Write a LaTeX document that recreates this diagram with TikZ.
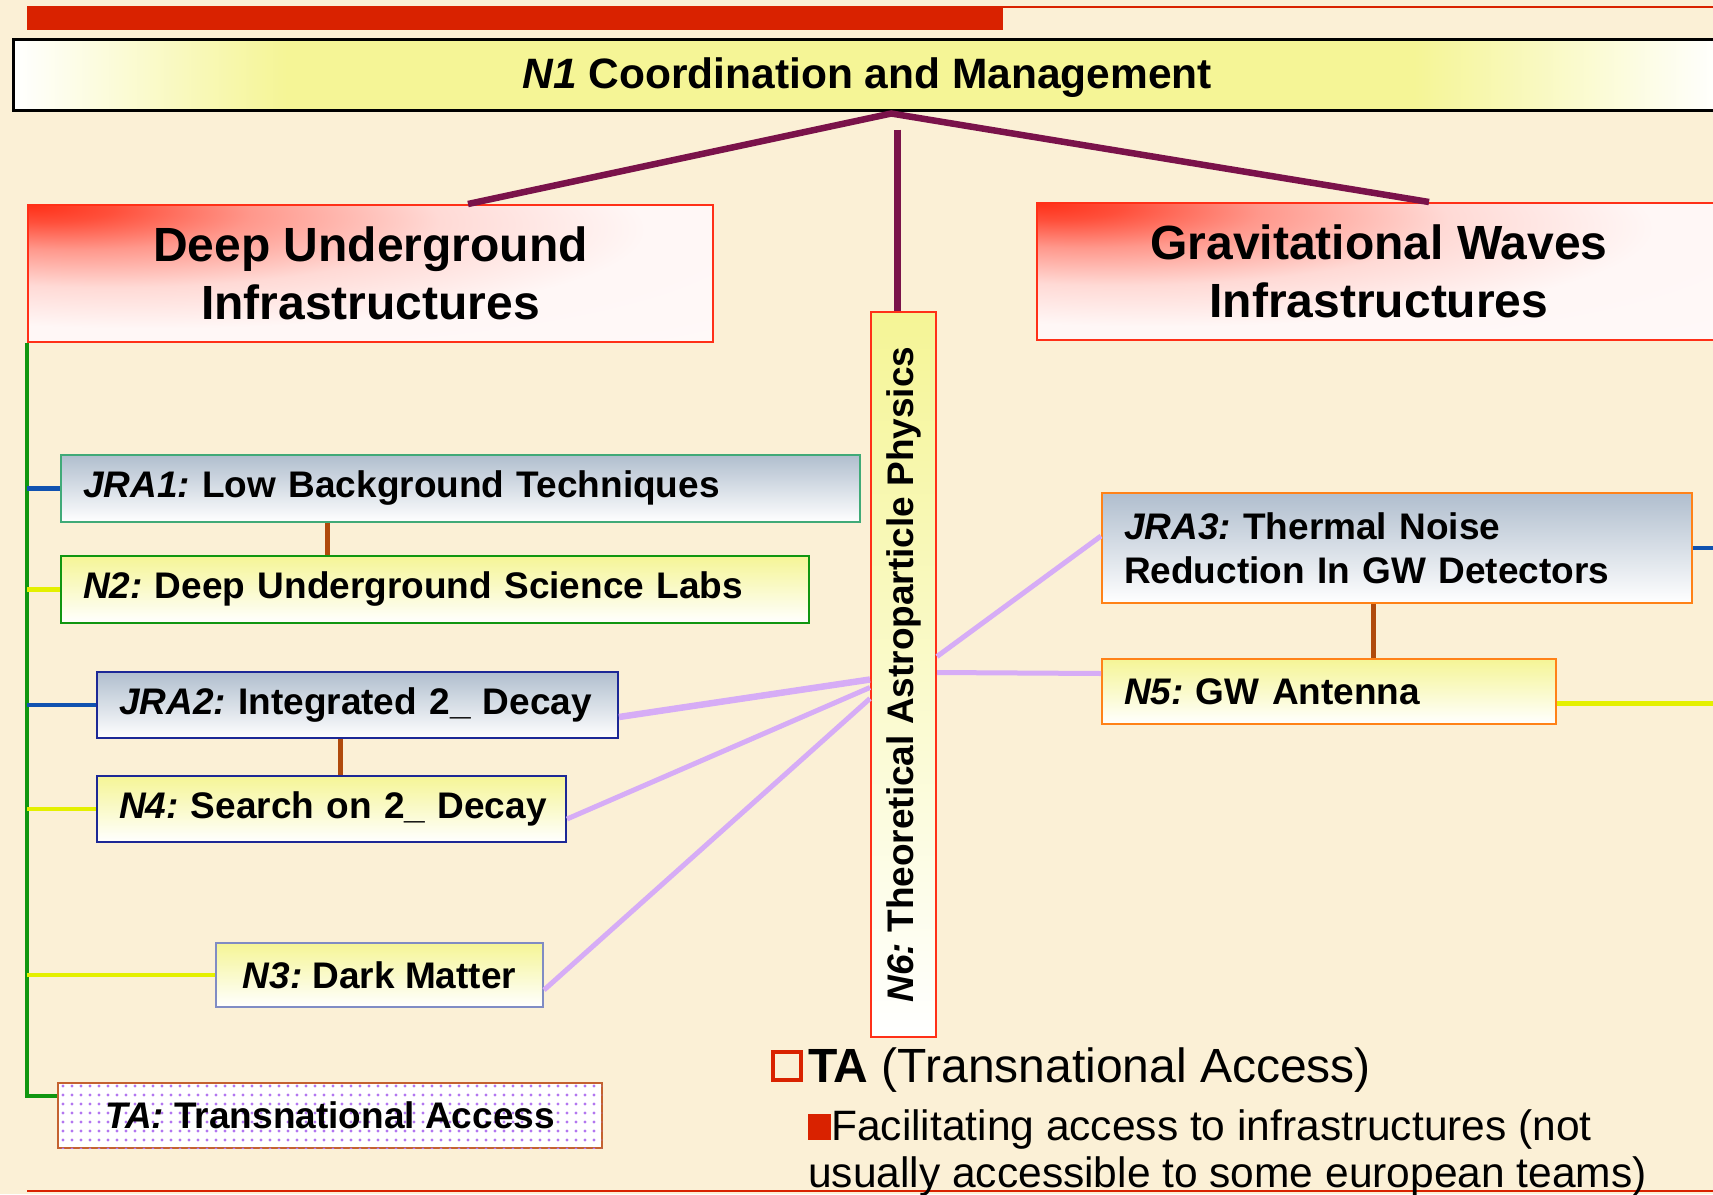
\documentclass[tikz,border=0pt]{standalone}
\usepackage{fontspec}
\setmainfont{Liberation Sans}
\usepackage{graphicx}
\usetikzlibrary{calc,patterns.meta}

\definecolor{paper}{RGB}{251,240,214}
\definecolor{barred}{RGB}{217,34,0}
\definecolor{hubmaroon}{RGB}{122,18,74}
\definecolor{headred}{RGB}{255,48,24}
\definecolor{lemon}{RGB}{245,245,150}
\definecolor{steel}{RGB}{176,190,206}
\definecolor{trunkgreen}{RGB}{16,150,16}
\definecolor{linkblue}{RGB}{16,82,176}
\definecolor{linkyellow}{RGB}{228,240,0}
\definecolor{rust}{RGB}{176,74,12}
\definecolor{lilac}{RGB}{214,172,246}
\definecolor{seagreen}{RGB}{64,170,120}
\definecolor{wpnavy}{RGB}{28,40,150}
\definecolor{slate}{RGB}{128,140,196}
\definecolor{amber}{RGB}{255,130,24}
\definecolor{clay}{RGB}{196,98,48}
\definecolor{dotlilac}{RGB}{178,118,240}

\pgfdeclarehorizontalshading{titlebar}{100bp}{color(0bp)=(white); color(25bp)=(white); color(33bp)=(lemon); color(66bp)=(lemon); color(75bp)=(white); color(100bp)=(white)}
\pgfdeclareradialshading{redcorner}{\pgfpoint{-25bp}{25bp}}{color(0bp)=(headred); color(5bp)=(headred!85!white); color(13bp)=(headred!50!white); color(24bp)=(headred!18!white); color(36bp)=(headred!4!white); color(100bp)=(white)}

\tikzset{
  headbox/.style={draw=headred, line width=2pt, shade, shading=redcorner, anchor=north west,
    minimum height=137pt, align=center, font=\fontsize{48}{58}\selectfont\bfseries},
  wpbox/.style={line width=2pt, anchor=north west, inner xsep=22pt, inner ysep=0pt,
    minimum height=66pt, font=\fontsize{37}{44}\selectfont\bfseries},
  jrabox/.style={wpbox, top color=steel, bottom color=white, align=left},
  netbox/.style={wpbox, top color=lemon, bottom color=white, align=left},
  mainlink/.style={draw=hubmaroon, line width=6.5pt},
  rodlink/.style={draw=rust, line width=5pt},
  bluelink/.style={draw=linkblue, line width=4.5pt},
  yellink/.style={draw=linkyellow, line width=4.5pt},
  lilaclink/.style={draw=lilac, line width=5pt},
}

\begin{document}
\frenchspacing
\begin{tikzpicture}[x=1pt,y=-1pt]
  \useasboundingbox (0,0) rectangle (1713,1194);
  \clip (0,0) rectangle (1713,1194);
  \fill[paper] (0,0) rectangle (1713,1194);
  \fill[barred] (27,6) rectangle (1003,30);
  \draw[barred, line width=1.5pt] (1003,7) -- (1713,7);
  \draw[barred, line width=1.5pt] (27,1191) -- (1713,1191);

  \node[draw=black, line width=2.5pt, shade, shading=titlebar, anchor=north west,
        minimum width=1708pt, minimum height=71pt, text depth=4pt,
        font=\fontsize{42.5}{50}\selectfont\bfseries] (n1) at (12,38) {\textit{N1} Coordination and Management};
  \node[headbox, minimum width=685pt] (du) at (27,204) {Deep Underground\\Infrastructures};
  \node[headbox, minimum width=684pt] (gw) at (1036,202) {Gravitational Waves\\Infrastructures};
  \node[wpbox, draw=headred, top color=lemon, bottom color=white, inner xsep=0pt,
        minimum width=65pt, minimum height=725pt] (n6) at (870,311) {\rotatebox{90}{\textit{N6:} Theoretical Astroparticle Physics}};

  \node[jrabox, draw=seagreen, text width=755pt, minimum height=67pt] (jra1) at (60,454) {\textit{JRA1:} Low Background Techniques};
  \node[netbox, draw=trunkgreen, text width=704pt, minimum height=67pt] (n2) at (60,555) {\textit{N2:} Deep Underground Science Labs};
  \node[jrabox, draw=wpnavy, text width=477pt] (jra2) at (96,671) {\mbox{\textit{JRA2:} Integrated 2\_ Decay}};
  \node[netbox, draw=wpnavy, text width=425pt] (n4) at (96,775) {\mbox{\textit{N4:} Search on 2\_ Decay}};
  \node[netbox, draw=slate, align=center, minimum width=327pt, minimum height=64pt] (n3) at (215,942) {\textit{N3:} Dark Matter};
  \node[wpbox, draw=clay, fill=white, postaction={pattern={Dots[distance=9pt,radius=1.6pt]}, pattern color=dotlilac},
        minimum width=544pt, minimum height=65pt] (ta) at (57,1082) {\textit{TA:} Transnational Access};
  \node[jrabox, draw=amber, text width=546pt, minimum height=110pt] (jra3) at (1101,492) {\textit{JRA3:} Thermal Noise\\Reduction In GW Detectors};
  \node[netbox, draw=amber, text width=410pt, minimum height=65pt] (n5) at (1101,658) {\textit{N5:} GW Antenna};

  \coordinate (hub) at ($(n1.south)+(24,2)$);
  \draw[mainlink] ($(du.north west)+(441,0)$) -- (hub) -- ($(gw.north west)+(393,0)$);
  \coordinate (hubtip) at ($(hub)+(6,16)$);
  \draw[mainlink] (hubtip) -- (hubtip |- n6.north);

  \coordinate (tahook) at ($(ta.north west)+(0,14)$);
  \draw[draw=trunkgreen, line width=3.5pt] (du.south west) |- (tahook);
  \foreach \wp/\kind in {jra1/bluelink, n2/yellink, jra2/bluelink, n4/yellink, n3/yellink}
    \draw[\kind] (\wp.west -| du.south west) -- (\wp.west);

  \draw[rodlink] ($(jra1.south west)+(267,0)$) coordinate (r1) -- (r1 |- n2.north);
  \draw[rodlink] ($(jra2.south west)+(244,0)$) coordinate (r2) -- (r2 |- n4.north);
  \draw[rodlink] ($(jra3.south west)+(272,0)$) coordinate (r3) -- (r3 |- n5.north);

  \coordinate (edge) at (1713,0);
  \draw[bluelink] (jra3.east) -- (jra3.east -| edge);
  \draw[yellink] ($(n5.east)+(0,12)$) coordinate (y5) -- (y5 -| edge);

  \draw[lilaclink, line width=6.5pt] ($(n6.west)+(0,5)$) -- ($(jra2.east)+(0,12)$);
  \draw[lilaclink] ($(n6.west)+(0,13)$) -- ($(n4.east)+(0,10)$);
  \draw[lilaclink] ($(n6.west)+(0,24)$) -- ($(n3.east)+(0,15)$);
  \draw[lilaclink] ($(n6.east)+(0,-18)$) -- ($(jra3.west)+(0,-12)$);
  \draw[lilaclink] ($(n6.east)+(0,-2)$) -- ($(n5.west)+(0,-18)$);

  \node[draw=barred, line width=3.5pt, minimum size=28pt, inner sep=0pt] (tasq) at (787,1066) {};
  \node[anchor=base west, inner sep=0pt, font=\fontsize{48}{56}\selectfont] (tanote) at (808,1082) {\textbf{TA} (Transnational Access)};
  \node[anchor=north west, inner sep=0pt, align=left, font=\fontsize{42.5}{47}\selectfont] (tadesc) at (808,1109)
    {{\color{barred}\rule{23pt}{26pt}}Facilitating access to infrastructures (not\\usually accessible to some european teams)};
\end{tikzpicture}
\end{document}
